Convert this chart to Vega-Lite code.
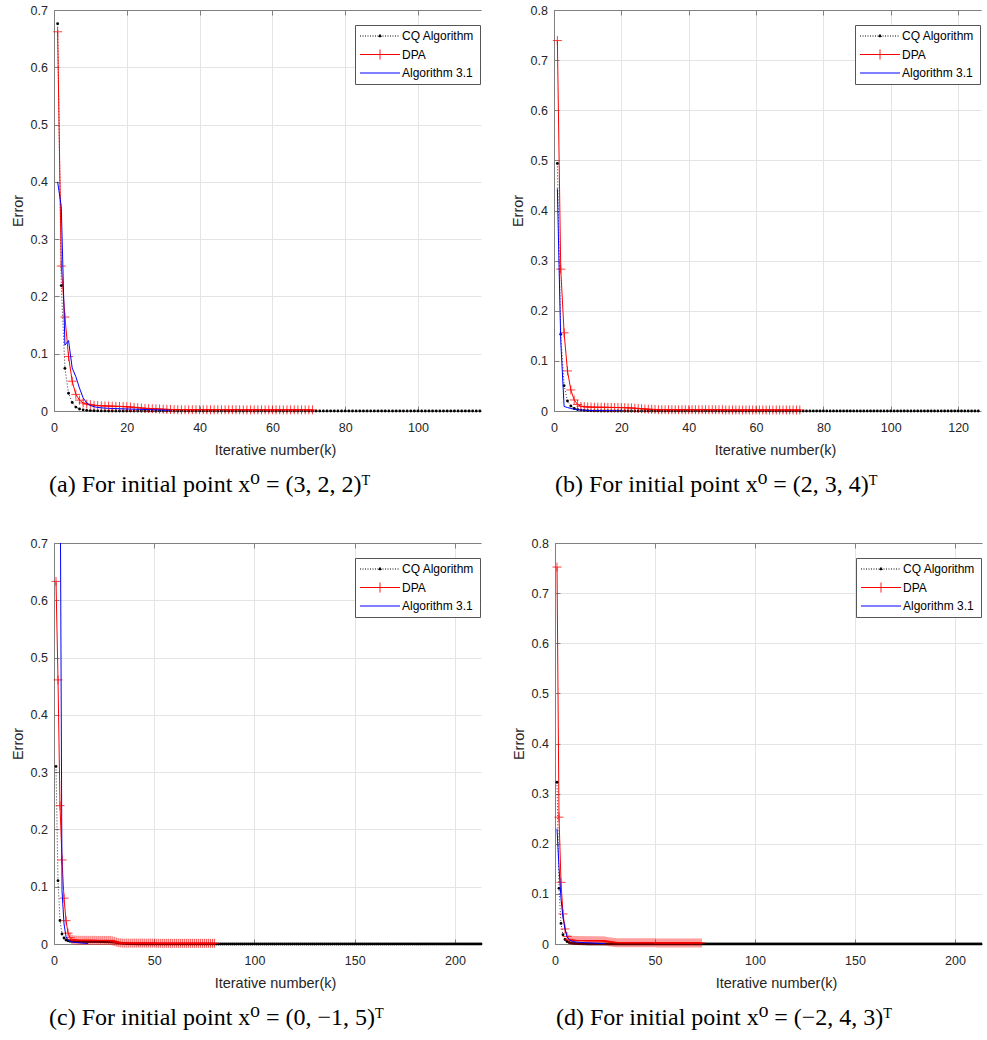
{
"$schema": "https://vega.github.io/schema/vega-lite/v6.json",
"padding": {"left": 10, "top": 4, "right": 0, "bottom": 0},
"background": "white",
"config": {
 "view": {"stroke": null},
 "font": "Liberation Sans",
 "axis": {"labelFont": "Liberation Sans", "labelFontSize": 12.5, "labelColor": "#262626", "titleFont": "Liberation Sans", "titleFontSize": 14.5, "titleFontWeight": "normal", "titleColor": "#262626", "domainColor": "#808080", "domainWidth": 1, "tickColor": "#808080", "tickSize": -5, "tickWidth": 1, "gridColor": "#e4e4e4", "gridWidth": 1, "labelFlush": false},
 "axisX": {"labelPadding": 15.5, "titlePadding": 9.5},
 "axisY": {"labelPadding": 11.5, "titlePadding": 5},
 "title": {"font": "Liberation Serif, DejaVu Serif", "fontSize": 24, "fontWeight": "normal", "color": "#000000", "baseline": "top"}
},
"datasets": {
"aC": [{"k":1,"e":0.676},{"k":2,"e":0.219},{"k":3,"e":0.0745},{"k":4,"e":0.031},{"k":5,"e":0.015},{"k":6,"e":0.0068},{"k":7,"e":0.0035},{"k":8,"e":0.002},{"k":9,"e":0.0012},{"k":10,"e":0.0008},{"k":11,"e":0.0005},{"k":12,"e":0.0003},{"k":13,"e":0.0002},{"k":14,"e":0.0001},{"k":15,"e":0},{"k":16,"e":0},{"k":17,"e":0},{"k":18,"e":0},{"k":19,"e":0},{"k":20,"e":0},{"k":21,"e":0},{"k":22,"e":0},{"k":23,"e":0},{"k":24,"e":0},{"k":25,"e":0},{"k":26,"e":0},{"k":27,"e":0},{"k":28,"e":0},{"k":29,"e":0},{"k":30,"e":0},{"k":31,"e":0},{"k":32,"e":0},{"k":33,"e":0},{"k":34,"e":0},{"k":35,"e":0},{"k":36,"e":0},{"k":37,"e":0},{"k":38,"e":0},{"k":39,"e":0},{"k":40,"e":0},{"k":41,"e":0},{"k":42,"e":0},{"k":43,"e":0},{"k":44,"e":0},{"k":45,"e":0},{"k":46,"e":0},{"k":47,"e":0},{"k":48,"e":0},{"k":49,"e":0},{"k":50,"e":0},{"k":51,"e":0},{"k":52,"e":0},{"k":53,"e":0},{"k":54,"e":0},{"k":55,"e":0},{"k":56,"e":0},{"k":57,"e":0},{"k":58,"e":0},{"k":59,"e":0},{"k":60,"e":0},{"k":61,"e":0},{"k":62,"e":0},{"k":63,"e":0},{"k":64,"e":0},{"k":65,"e":0},{"k":66,"e":0},{"k":67,"e":0},{"k":68,"e":0},{"k":69,"e":0},{"k":70,"e":0},{"k":71,"e":0},{"k":72,"e":0},{"k":73,"e":0},{"k":74,"e":0},{"k":75,"e":0},{"k":76,"e":0},{"k":77,"e":0},{"k":78,"e":0},{"k":79,"e":0},{"k":80,"e":0},{"k":81,"e":0},{"k":82,"e":0},{"k":83,"e":0},{"k":84,"e":0},{"k":85,"e":0},{"k":86,"e":0},{"k":87,"e":0},{"k":88,"e":0},{"k":89,"e":0},{"k":90,"e":0},{"k":91,"e":0},{"k":92,"e":0},{"k":93,"e":0},{"k":94,"e":0},{"k":95,"e":0},{"k":96,"e":0},{"k":97,"e":0},{"k":98,"e":0},{"k":99,"e":0},{"k":100,"e":0},{"k":101,"e":0},{"k":102,"e":0},{"k":103,"e":0},{"k":104,"e":0},{"k":105,"e":0},{"k":106,"e":0},{"k":107,"e":0},{"k":108,"e":0},{"k":109,"e":0},{"k":110,"e":0},{"k":111,"e":0},{"k":112,"e":0},{"k":113,"e":0},{"k":114,"e":0},{"k":115,"e":0},{"k":116,"e":0},{"k":117,"e":0}],
"aD": [{"k":1,"e":0.662},{"k":2,"e":0.253},{"k":3,"e":0.164},{"k":4,"e":0.095},{"k":5,"e":0.052},{"k":6,"e":0.029},{"k":7,"e":0.019},{"k":8,"e":0.014},{"k":9,"e":0.012},{"k":10,"e":0.011},{"k":11,"e":0.01},{"k":12,"e":0.0095},{"k":13,"e":0.009},{"k":14,"e":0.0088},{"k":15,"e":0.0086},{"k":16,"e":0.0084},{"k":17,"e":0.0082},{"k":18,"e":0.008},{"k":19,"e":0.0077},{"k":20,"e":0.0074},{"k":21,"e":0.007},{"k":22,"e":0.0064},{"k":23,"e":0.0058},{"k":24,"e":0.0052},{"k":25,"e":0.0047},{"k":26,"e":0.0043},{"k":27,"e":0.004},{"k":28,"e":0.0037},{"k":29,"e":0.0034},{"k":30,"e":0.0031},{"k":31,"e":0.0028},{"k":32,"e":0.0026},{"k":33,"e":0.0024},{"k":34,"e":0.0023},{"k":35,"e":0.0022},{"k":36,"e":0.0022},{"k":37,"e":0.0022},{"k":38,"e":0.0022},{"k":39,"e":0.0022},{"k":40,"e":0.0022},{"k":41,"e":0.0022},{"k":42,"e":0.0022},{"k":43,"e":0.0022},{"k":44,"e":0.0022},{"k":45,"e":0.0022},{"k":46,"e":0.0022},{"k":47,"e":0.0022},{"k":48,"e":0.0022},{"k":49,"e":0.0022},{"k":50,"e":0.0022},{"k":51,"e":0.002},{"k":52,"e":0.002},{"k":53,"e":0.002},{"k":54,"e":0.002},{"k":55,"e":0.002},{"k":56,"e":0.002},{"k":57,"e":0.002},{"k":58,"e":0.002},{"k":59,"e":0.002},{"k":60,"e":0.002},{"k":61,"e":0.002},{"k":62,"e":0.002},{"k":63,"e":0.002},{"k":64,"e":0.002},{"k":65,"e":0.002},{"k":66,"e":0.002},{"k":67,"e":0.002},{"k":68,"e":0.002},{"k":69,"e":0.002},{"k":70,"e":0.002},{"k":71,"e":0.002}],
"aA": [{"k":1,"e":0.4},{"k":2,"e":0.357},{"k":3,"e":0.115},{"k":4,"e":0.123},{"k":5,"e":0.075},{"k":6,"e":0.06},{"k":7,"e":0.04},{"k":8,"e":0.023},{"k":9,"e":0.014},{"k":10,"e":0.0096},{"k":11,"e":0.0075},{"k":12,"e":0.0062},{"k":13,"e":0.0055},{"k":14,"e":0.005},{"k":15,"e":0.0047},{"k":16,"e":0.0044},{"k":17,"e":0.0042},{"k":18,"e":0.004},{"k":19,"e":0.0038},{"k":20,"e":0.0036},{"k":21,"e":0.0034},{"k":22,"e":0.0032},{"k":23,"e":0.003},{"k":24,"e":0.0028},{"k":25,"e":0.0026},{"k":26,"e":0.0024},{"k":27,"e":0.0022},{"k":28,"e":0.002},{"k":29,"e":0.0018},{"k":30,"e":0.0016},{"k":31,"e":0.0014},{"k":32,"e":0.0012}],
"bC": [{"k":1,"e":0.494},{"k":2,"e":0.153},{"k":3,"e":0.0505},{"k":4,"e":0.02},{"k":5,"e":0.01},{"k":6,"e":0.0052},{"k":7,"e":0.003},{"k":8,"e":0.0018},{"k":9,"e":0.0011},{"k":10,"e":0.0007},{"k":11,"e":0.0004},{"k":12,"e":0.0002},{"k":13,"e":0.0001},{"k":14,"e":0},{"k":15,"e":0},{"k":16,"e":0},{"k":17,"e":0},{"k":18,"e":0},{"k":19,"e":0},{"k":20,"e":0},{"k":21,"e":0},{"k":22,"e":0},{"k":23,"e":0},{"k":24,"e":0},{"k":25,"e":0},{"k":26,"e":0},{"k":27,"e":0},{"k":28,"e":0},{"k":29,"e":0},{"k":30,"e":0},{"k":31,"e":0},{"k":32,"e":0},{"k":33,"e":0},{"k":34,"e":0},{"k":35,"e":0},{"k":36,"e":0},{"k":37,"e":0},{"k":38,"e":0},{"k":39,"e":0},{"k":40,"e":0},{"k":41,"e":0},{"k":42,"e":0},{"k":43,"e":0},{"k":44,"e":0},{"k":45,"e":0},{"k":46,"e":0},{"k":47,"e":0},{"k":48,"e":0},{"k":49,"e":0},{"k":50,"e":0},{"k":51,"e":0},{"k":52,"e":0},{"k":53,"e":0},{"k":54,"e":0},{"k":55,"e":0},{"k":56,"e":0},{"k":57,"e":0},{"k":58,"e":0},{"k":59,"e":0},{"k":60,"e":0},{"k":61,"e":0},{"k":62,"e":0},{"k":63,"e":0},{"k":64,"e":0},{"k":65,"e":0},{"k":66,"e":0},{"k":67,"e":0},{"k":68,"e":0},{"k":69,"e":0},{"k":70,"e":0},{"k":71,"e":0},{"k":72,"e":0},{"k":73,"e":0},{"k":74,"e":0},{"k":75,"e":0},{"k":76,"e":0},{"k":77,"e":0},{"k":78,"e":0},{"k":79,"e":0},{"k":80,"e":0},{"k":81,"e":0},{"k":82,"e":0},{"k":83,"e":0},{"k":84,"e":0},{"k":85,"e":0},{"k":86,"e":0},{"k":87,"e":0},{"k":88,"e":0},{"k":89,"e":0},{"k":90,"e":0},{"k":91,"e":0},{"k":92,"e":0},{"k":93,"e":0},{"k":94,"e":0},{"k":95,"e":0},{"k":96,"e":0},{"k":97,"e":0},{"k":98,"e":0},{"k":99,"e":0},{"k":100,"e":0},{"k":101,"e":0},{"k":102,"e":0},{"k":103,"e":0},{"k":104,"e":0},{"k":105,"e":0},{"k":106,"e":0},{"k":107,"e":0},{"k":108,"e":0},{"k":109,"e":0},{"k":110,"e":0},{"k":111,"e":0},{"k":112,"e":0},{"k":113,"e":0},{"k":114,"e":0},{"k":115,"e":0},{"k":116,"e":0},{"k":117,"e":0},{"k":118,"e":0},{"k":119,"e":0},{"k":120,"e":0},{"k":121,"e":0},{"k":122,"e":0},{"k":123,"e":0},{"k":124,"e":0},{"k":125,"e":0},{"k":126,"e":0}],
"bD": [{"k":1,"e":0.739},{"k":2,"e":0.283},{"k":3,"e":0.156},{"k":4,"e":0.08},{"k":5,"e":0.042},{"k":6,"e":0.022},{"k":7,"e":0.013},{"k":8,"e":0.0095},{"k":9,"e":0.0085},{"k":10,"e":0.008},{"k":11,"e":0.0078},{"k":12,"e":0.0076},{"k":13,"e":0.0075},{"k":14,"e":0.0074},{"k":15,"e":0.0073},{"k":16,"e":0.0072},{"k":17,"e":0.0071},{"k":18,"e":0.007},{"k":19,"e":0.0069},{"k":20,"e":0.0068},{"k":21,"e":0.0066},{"k":22,"e":0.0063},{"k":23,"e":0.006},{"k":24,"e":0.0055},{"k":25,"e":0.005},{"k":26,"e":0.0045},{"k":27,"e":0.004},{"k":28,"e":0.0036},{"k":29,"e":0.0032},{"k":30,"e":0.003},{"k":31,"e":0.0025},{"k":32,"e":0.0025},{"k":33,"e":0.0025},{"k":34,"e":0.0025},{"k":35,"e":0.0025},{"k":36,"e":0.0025},{"k":37,"e":0.0025},{"k":38,"e":0.0025},{"k":39,"e":0.0025},{"k":40,"e":0.0025},{"k":41,"e":0.0025},{"k":42,"e":0.0025},{"k":43,"e":0.0025},{"k":44,"e":0.0025},{"k":45,"e":0.0025},{"k":46,"e":0.0025},{"k":47,"e":0.0025},{"k":48,"e":0.0025},{"k":49,"e":0.0025},{"k":50,"e":0.0025},{"k":51,"e":0.002},{"k":52,"e":0.002},{"k":53,"e":0.002},{"k":54,"e":0.002},{"k":55,"e":0.002},{"k":56,"e":0.002},{"k":57,"e":0.002},{"k":58,"e":0.002},{"k":59,"e":0.002},{"k":60,"e":0.002},{"k":61,"e":0.002},{"k":62,"e":0.002},{"k":63,"e":0.002},{"k":64,"e":0.002},{"k":65,"e":0.002},{"k":66,"e":0.002},{"k":67,"e":0.002},{"k":68,"e":0.002},{"k":69,"e":0.002},{"k":70,"e":0.002},{"k":71,"e":0.002},{"k":72,"e":0.002},{"k":73,"e":0.002}],
"bA": [{"k":1,"e":0.444},{"k":2,"e":0.14},{"k":3,"e":0.009},{"k":4,"e":0.007},{"k":5,"e":0.005},{"k":6,"e":0.0035},{"k":7,"e":0.0025},{"k":8,"e":0.002},{"k":9,"e":0.0016},{"k":10,"e":0.0013},{"k":11,"e":0.001},{"k":12,"e":0.0009},{"k":13,"e":0.0008},{"k":14,"e":0.0007},{"k":15,"e":0.0006},{"k":16,"e":0.0005},{"k":17,"e":0.0005},{"k":18,"e":0.0004},{"k":19,"e":0.0004},{"k":20,"e":0.0003}],
"cC": [{"k":1,"e":0.31},{"k":2,"e":0.1105},{"k":3,"e":0.041},{"k":4,"e":0.0175},{"k":5,"e":0.0105},{"k":6,"e":0.007},{"k":7,"e":0.0055},{"k":8,"e":0.0048},{"k":9,"e":0.0045},{"k":10,"e":0.0043},{"k":11,"e":0.0042},{"k":12,"e":0.0041},{"k":13,"e":0.004},{"k":14,"e":0.004},{"k":15,"e":0.004},{"k":16,"e":0.004},{"k":17,"e":0.004},{"k":18,"e":0.004},{"k":19,"e":0.004},{"k":20,"e":0.004},{"k":21,"e":0.004},{"k":22,"e":0.004},{"k":23,"e":0.0039},{"k":24,"e":0.0038},{"k":25,"e":0.0037},{"k":26,"e":0.0036},{"k":27,"e":0.0035},{"k":28,"e":0.0034},{"k":29,"e":0.0032},{"k":30,"e":0.003},{"k":31,"e":0.0025},{"k":32,"e":0.002},{"k":33,"e":0.0016},{"k":34,"e":0.0013},{"k":35,"e":0.001},{"k":36,"e":0.0008},{"k":37,"e":0.0006},{"k":38,"e":0.0004},{"k":39,"e":0.0003},{"k":40,"e":0.0002},{"k":41,"e":0.0001},{"k":42,"e":0},{"k":43,"e":0},{"k":44,"e":0},{"k":45,"e":0},{"k":46,"e":0},{"k":47,"e":0},{"k":48,"e":0},{"k":49,"e":0},{"k":50,"e":0},{"k":51,"e":0},{"k":52,"e":0},{"k":53,"e":0},{"k":54,"e":0},{"k":55,"e":0},{"k":56,"e":0},{"k":57,"e":0},{"k":58,"e":0},{"k":59,"e":0},{"k":60,"e":0},{"k":61,"e":0},{"k":62,"e":0},{"k":63,"e":0},{"k":64,"e":0},{"k":65,"e":0},{"k":66,"e":0},{"k":67,"e":0},{"k":68,"e":0},{"k":69,"e":0},{"k":70,"e":0},{"k":71,"e":0},{"k":72,"e":0},{"k":73,"e":0},{"k":74,"e":0},{"k":75,"e":0},{"k":76,"e":0},{"k":77,"e":0},{"k":78,"e":0},{"k":79,"e":0},{"k":80,"e":0},{"k":81,"e":0},{"k":82,"e":0},{"k":83,"e":0},{"k":84,"e":0},{"k":85,"e":0},{"k":86,"e":0},{"k":87,"e":0},{"k":88,"e":0},{"k":89,"e":0},{"k":90,"e":0},{"k":91,"e":0},{"k":92,"e":0},{"k":93,"e":0},{"k":94,"e":0},{"k":95,"e":0},{"k":96,"e":0},{"k":97,"e":0},{"k":98,"e":0},{"k":99,"e":0},{"k":100,"e":0},{"k":101,"e":0},{"k":102,"e":0},{"k":103,"e":0},{"k":104,"e":0},{"k":105,"e":0},{"k":106,"e":0},{"k":107,"e":0},{"k":108,"e":0},{"k":109,"e":0},{"k":110,"e":0},{"k":111,"e":0},{"k":112,"e":0},{"k":113,"e":0},{"k":114,"e":0},{"k":115,"e":0},{"k":116,"e":0},{"k":117,"e":0},{"k":118,"e":0},{"k":119,"e":0},{"k":120,"e":0},{"k":121,"e":0},{"k":122,"e":0},{"k":123,"e":0},{"k":124,"e":0},{"k":125,"e":0},{"k":126,"e":0},{"k":127,"e":0},{"k":128,"e":0},{"k":129,"e":0},{"k":130,"e":0},{"k":131,"e":0},{"k":132,"e":0},{"k":133,"e":0},{"k":134,"e":0},{"k":135,"e":0},{"k":136,"e":0},{"k":137,"e":0},{"k":138,"e":0},{"k":139,"e":0},{"k":140,"e":0},{"k":141,"e":0},{"k":142,"e":0},{"k":143,"e":0},{"k":144,"e":0},{"k":145,"e":0},{"k":146,"e":0},{"k":147,"e":0},{"k":148,"e":0},{"k":149,"e":0},{"k":150,"e":0},{"k":151,"e":0},{"k":152,"e":0},{"k":153,"e":0},{"k":154,"e":0},{"k":155,"e":0},{"k":156,"e":0},{"k":157,"e":0},{"k":158,"e":0},{"k":159,"e":0},{"k":160,"e":0},{"k":161,"e":0},{"k":162,"e":0},{"k":163,"e":0},{"k":164,"e":0},{"k":165,"e":0},{"k":166,"e":0},{"k":167,"e":0},{"k":168,"e":0},{"k":169,"e":0},{"k":170,"e":0},{"k":171,"e":0},{"k":172,"e":0},{"k":173,"e":0},{"k":174,"e":0},{"k":175,"e":0},{"k":176,"e":0},{"k":177,"e":0},{"k":178,"e":0},{"k":179,"e":0},{"k":180,"e":0},{"k":181,"e":0},{"k":182,"e":0},{"k":183,"e":0},{"k":184,"e":0},{"k":185,"e":0},{"k":186,"e":0},{"k":187,"e":0},{"k":188,"e":0},{"k":189,"e":0},{"k":190,"e":0},{"k":191,"e":0},{"k":192,"e":0},{"k":193,"e":0},{"k":194,"e":0},{"k":195,"e":0},{"k":196,"e":0},{"k":197,"e":0},{"k":198,"e":0},{"k":199,"e":0},{"k":200,"e":0},{"k":201,"e":0},{"k":202,"e":0},{"k":203,"e":0},{"k":204,"e":0},{"k":205,"e":0},{"k":206,"e":0},{"k":207,"e":0},{"k":208,"e":0},{"k":209,"e":0},{"k":210,"e":0},{"k":211,"e":0},{"k":212,"e":0},{"k":213,"e":0}],
"cD": [{"k":1,"e":0.633},{"k":2,"e":0.461},{"k":3,"e":0.2415},{"k":4,"e":0.1467},{"k":5,"e":0.08},{"k":6,"e":0.0407},{"k":7,"e":0.019},{"k":8,"e":0.011},{"k":9,"e":0.008},{"k":10,"e":0.007},{"k":11,"e":0.0066},{"k":12,"e":0.0064},{"k":13,"e":0.0064},{"k":14,"e":0.0064},{"k":15,"e":0.0064},{"k":16,"e":0.0064},{"k":17,"e":0.0064},{"k":18,"e":0.0064},{"k":19,"e":0.0064},{"k":20,"e":0.0064},{"k":21,"e":0.0062},{"k":22,"e":0.0062},{"k":23,"e":0.0062},{"k":24,"e":0.0062},{"k":25,"e":0.0062},{"k":26,"e":0.0062},{"k":27,"e":0.0062},{"k":28,"e":0.0062},{"k":29,"e":0.0055},{"k":30,"e":0.0045},{"k":31,"e":0.0035},{"k":32,"e":0.0025},{"k":33,"e":0.002},{"k":34,"e":0.0015},{"k":35,"e":0.0015},{"k":36,"e":0.0015},{"k":37,"e":0.0015},{"k":38,"e":0.0015},{"k":39,"e":0.0015},{"k":40,"e":0.0015},{"k":41,"e":0.0015},{"k":42,"e":0.0015},{"k":43,"e":0.0015},{"k":44,"e":0.0015},{"k":45,"e":0.0015},{"k":46,"e":0.0015},{"k":47,"e":0.0015},{"k":48,"e":0.0015},{"k":49,"e":0.0015},{"k":50,"e":0.0015},{"k":51,"e":0.0012},{"k":52,"e":0.0012},{"k":53,"e":0.0012},{"k":54,"e":0.0012},{"k":55,"e":0.0012},{"k":56,"e":0.0012},{"k":57,"e":0.0012},{"k":58,"e":0.0012},{"k":59,"e":0.0012},{"k":60,"e":0.0012},{"k":61,"e":0.0012},{"k":62,"e":0.0012},{"k":63,"e":0.0012},{"k":64,"e":0.0012},{"k":65,"e":0.0012},{"k":66,"e":0.0012},{"k":67,"e":0.0012},{"k":68,"e":0.0012},{"k":69,"e":0.0012},{"k":70,"e":0.0012},{"k":71,"e":0.0012},{"k":72,"e":0.0012},{"k":73,"e":0.0012},{"k":74,"e":0.0012},{"k":75,"e":0.0012},{"k":76,"e":0.0012},{"k":77,"e":0.0012},{"k":78,"e":0.0012},{"k":79,"e":0.0012},{"k":80,"e":0.0012}],
"cA": [{"k":1,"e":1.8},{"k":2,"e":1.2},{"k":3,"e":0.9},{"k":4,"e":0.093},{"k":5,"e":0.035},{"k":6,"e":0.013},{"k":7,"e":0.007},{"k":8,"e":0.0045},{"k":9,"e":0.0035},{"k":10,"e":0.003},{"k":11,"e":0.0026},{"k":12,"e":0.0022},{"k":13,"e":0.0019},{"k":14,"e":0.0016},{"k":15,"e":0.0013},{"k":16,"e":0.001},{"k":17,"e":0.0008}],
"dC": [{"k":1,"e":0.3227},{"k":2,"e":0.111},{"k":3,"e":0.041},{"k":4,"e":0.0186},{"k":5,"e":0.009},{"k":6,"e":0.005},{"k":7,"e":0.003},{"k":8,"e":0.002},{"k":9,"e":0.0014},{"k":10,"e":0.001},{"k":11,"e":0.0007},{"k":12,"e":0.0005},{"k":13,"e":0.0003},{"k":14,"e":0.0002},{"k":15,"e":0.0001},{"k":16,"e":0},{"k":17,"e":0},{"k":18,"e":0},{"k":19,"e":0},{"k":20,"e":0},{"k":21,"e":0},{"k":22,"e":0},{"k":23,"e":0},{"k":24,"e":0},{"k":25,"e":0},{"k":26,"e":0},{"k":27,"e":0},{"k":28,"e":0},{"k":29,"e":0},{"k":30,"e":0},{"k":31,"e":0},{"k":32,"e":0},{"k":33,"e":0},{"k":34,"e":0},{"k":35,"e":0},{"k":36,"e":0},{"k":37,"e":0},{"k":38,"e":0},{"k":39,"e":0},{"k":40,"e":0},{"k":41,"e":0},{"k":42,"e":0},{"k":43,"e":0},{"k":44,"e":0},{"k":45,"e":0},{"k":46,"e":0},{"k":47,"e":0},{"k":48,"e":0},{"k":49,"e":0},{"k":50,"e":0},{"k":51,"e":0},{"k":52,"e":0},{"k":53,"e":0},{"k":54,"e":0},{"k":55,"e":0},{"k":56,"e":0},{"k":57,"e":0},{"k":58,"e":0},{"k":59,"e":0},{"k":60,"e":0},{"k":61,"e":0},{"k":62,"e":0},{"k":63,"e":0},{"k":64,"e":0},{"k":65,"e":0},{"k":66,"e":0},{"k":67,"e":0},{"k":68,"e":0},{"k":69,"e":0},{"k":70,"e":0},{"k":71,"e":0},{"k":72,"e":0},{"k":73,"e":0},{"k":74,"e":0},{"k":75,"e":0},{"k":76,"e":0},{"k":77,"e":0},{"k":78,"e":0},{"k":79,"e":0},{"k":80,"e":0},{"k":81,"e":0},{"k":82,"e":0},{"k":83,"e":0},{"k":84,"e":0},{"k":85,"e":0},{"k":86,"e":0},{"k":87,"e":0},{"k":88,"e":0},{"k":89,"e":0},{"k":90,"e":0},{"k":91,"e":0},{"k":92,"e":0},{"k":93,"e":0},{"k":94,"e":0},{"k":95,"e":0},{"k":96,"e":0},{"k":97,"e":0},{"k":98,"e":0},{"k":99,"e":0},{"k":100,"e":0},{"k":101,"e":0},{"k":102,"e":0},{"k":103,"e":0},{"k":104,"e":0},{"k":105,"e":0},{"k":106,"e":0},{"k":107,"e":0},{"k":108,"e":0},{"k":109,"e":0},{"k":110,"e":0},{"k":111,"e":0},{"k":112,"e":0},{"k":113,"e":0},{"k":114,"e":0},{"k":115,"e":0},{"k":116,"e":0},{"k":117,"e":0},{"k":118,"e":0},{"k":119,"e":0},{"k":120,"e":0},{"k":121,"e":0},{"k":122,"e":0},{"k":123,"e":0},{"k":124,"e":0},{"k":125,"e":0},{"k":126,"e":0},{"k":127,"e":0},{"k":128,"e":0},{"k":129,"e":0},{"k":130,"e":0},{"k":131,"e":0},{"k":132,"e":0},{"k":133,"e":0},{"k":134,"e":0},{"k":135,"e":0},{"k":136,"e":0},{"k":137,"e":0},{"k":138,"e":0},{"k":139,"e":0},{"k":140,"e":0},{"k":141,"e":0},{"k":142,"e":0},{"k":143,"e":0},{"k":144,"e":0},{"k":145,"e":0},{"k":146,"e":0},{"k":147,"e":0},{"k":148,"e":0},{"k":149,"e":0},{"k":150,"e":0},{"k":151,"e":0},{"k":152,"e":0},{"k":153,"e":0},{"k":154,"e":0},{"k":155,"e":0},{"k":156,"e":0},{"k":157,"e":0},{"k":158,"e":0},{"k":159,"e":0},{"k":160,"e":0},{"k":161,"e":0},{"k":162,"e":0},{"k":163,"e":0},{"k":164,"e":0},{"k":165,"e":0},{"k":166,"e":0},{"k":167,"e":0},{"k":168,"e":0},{"k":169,"e":0},{"k":170,"e":0},{"k":171,"e":0},{"k":172,"e":0},{"k":173,"e":0},{"k":174,"e":0},{"k":175,"e":0},{"k":176,"e":0},{"k":177,"e":0},{"k":178,"e":0},{"k":179,"e":0},{"k":180,"e":0},{"k":181,"e":0},{"k":182,"e":0},{"k":183,"e":0},{"k":184,"e":0},{"k":185,"e":0},{"k":186,"e":0},{"k":187,"e":0},{"k":188,"e":0},{"k":189,"e":0},{"k":190,"e":0},{"k":191,"e":0},{"k":192,"e":0},{"k":193,"e":0},{"k":194,"e":0},{"k":195,"e":0},{"k":196,"e":0},{"k":197,"e":0},{"k":198,"e":0},{"k":199,"e":0},{"k":200,"e":0},{"k":201,"e":0},{"k":202,"e":0},{"k":203,"e":0},{"k":204,"e":0},{"k":205,"e":0},{"k":206,"e":0},{"k":207,"e":0},{"k":208,"e":0},{"k":209,"e":0},{"k":210,"e":0},{"k":211,"e":0},{"k":212,"e":0},{"k":213,"e":0}],
"dD": [{"k":1,"e":0.752},{"k":2,"e":0.253},{"k":3,"e":0.123},{"k":4,"e":0.06},{"k":5,"e":0.03},{"k":6,"e":0.015},{"k":7,"e":0.0095},{"k":8,"e":0.008},{"k":9,"e":0.0072},{"k":10,"e":0.0071},{"k":11,"e":0.007},{"k":12,"e":0.0069},{"k":13,"e":0.0068},{"k":14,"e":0.0068},{"k":15,"e":0.0067},{"k":16,"e":0.0067},{"k":17,"e":0.0066},{"k":18,"e":0.0066},{"k":19,"e":0.0065},{"k":20,"e":0.0065},{"k":21,"e":0.0065},{"k":22,"e":0.0064},{"k":23,"e":0.0064},{"k":24,"e":0.0063},{"k":25,"e":0.006},{"k":26,"e":0.0052},{"k":27,"e":0.0045},{"k":28,"e":0.004},{"k":29,"e":0.0035},{"k":30,"e":0.003},{"k":31,"e":0.0025},{"k":32,"e":0.0025},{"k":33,"e":0.0025},{"k":34,"e":0.0025},{"k":35,"e":0.0025},{"k":36,"e":0.0025},{"k":37,"e":0.0025},{"k":38,"e":0.0025},{"k":39,"e":0.0025},{"k":40,"e":0.0025},{"k":41,"e":0.0025},{"k":42,"e":0.0025},{"k":43,"e":0.0025},{"k":44,"e":0.0025},{"k":45,"e":0.0025},{"k":46,"e":0.0025},{"k":47,"e":0.0025},{"k":48,"e":0.0025},{"k":49,"e":0.0025},{"k":50,"e":0.0025},{"k":51,"e":0.002},{"k":52,"e":0.002},{"k":53,"e":0.002},{"k":54,"e":0.002},{"k":55,"e":0.002},{"k":56,"e":0.002},{"k":57,"e":0.002},{"k":58,"e":0.002},{"k":59,"e":0.002},{"k":60,"e":0.002},{"k":61,"e":0.002},{"k":62,"e":0.002},{"k":63,"e":0.002},{"k":64,"e":0.002},{"k":65,"e":0.002},{"k":66,"e":0.002},{"k":67,"e":0.002},{"k":68,"e":0.002},{"k":69,"e":0.002},{"k":70,"e":0.002},{"k":71,"e":0.002},{"k":72,"e":0.002},{"k":73,"e":0.002}],
"dA": [{"k":1,"e":0.23},{"k":2,"e":0.153},{"k":3,"e":0.09},{"k":4,"e":0.053},{"k":5,"e":0.03},{"k":6,"e":0.015},{"k":7,"e":0.009},{"k":8,"e":0.0065},{"k":9,"e":0.005},{"k":10,"e":0.0043},{"k":11,"e":0.0038},{"k":12,"e":0.0034},{"k":13,"e":0.003},{"k":14,"e":0.0028},{"k":15,"e":0.0026},{"k":16,"e":0.0024},{"k":17,"e":0.0022},{"k":18,"e":0.002},{"k":19,"e":0.0018},{"k":20,"e":0.0016},{"k":21,"e":0.0014},{"k":22,"e":0.0012},{"k":23,"e":0.001},{"k":24,"e":0.0009},{"k":25,"e":0.0008}]
},
"spacing": 40,
"resolve": {"scale": {"color": "independent"}},
"vconcat": [
{"spacing": 28, "resolve": {"scale": {"color": "independent"}}, "hconcat": [
{"width": 427, "height": 401,
 "title": {"text": "(a) For initial point x⁰ = (3, 2, 2)ᵀ", "orient": "bottom", "anchor": "start", "frame": "group", "dx": -5, "offset": 16},
 "resolve": {"axis": {"x": "independent"}},
 "layer": [
  {"data": {"name": "aC"}, "mark": {"type": "line", "clip": true, "strokeDash": [1, 2], "strokeWidth": 0.8},
   "encoding": {
    "x": {"field": "k", "type": "quantitative", "scale": {"domain": [0, 117.3], "nice": false}, "axis": {"values": [0, 20, 40, 60, 80, 100], "title": "Iterative number(k)", "titleX": 221}},
    "y": {"field": "e", "type": "quantitative", "scale": {"domain": [0, 0.7], "nice": false}, "axis": {"values": [0, 0.1, 0.2, 0.3, 0.4, 0.5, 0.6, 0.7], "format": ".1~f", "title": "Error"}},
    "color": {"datum": "CQ Algorithm", "type": "nominal", "scale": {"domain": ["CQ Algorithm", "DPA", "Algorithm 3.1"], "range": ["#000000", "#ff0000", "#0000ff"]},
     "legend": {"title": null, "orient": "none", "legendX": 301, "legendY": 15, "fillColor": "#ffffff", "strokeColor": "#555555", "padding": 5, "labelFont": "Liberation Sans", "labelFontSize": 12, "labelColor": "#000000", "symbolSize": 100, "symbolStrokeWidth": 1, "symbolOffset": 14, "labelOffset": 16, "rowPadding": 5.5,
      "encode": {"symbols": {"update": {
       "shape": {"signal": "datum.value === 'CQ Algorithm' ? 'M-4,0H4M0.26,0A0.26,0.26 0 1,1 -0.26,0A0.26,0.26 0 1,1 0.26,0' : datum.value === 'DPA' ? 'M-4,0H4M0,-1V1' : 'M-4,0H4'"},
       "fill": {"signal": "datum.value === 'CQ Algorithm' ? '#000000' : 'transparent'"},
       "strokeDash": {"signal": "datum.value === 'CQ Algorithm' ? [1, 1.5] : [1, 0]"}}}}}}}},
  {"data": {"name": "aD"}, "mark": {"type": "line", "clip": true, "strokeWidth": 1},
   "encoding": {"x": {"field": "k", "type": "quantitative", "axis": null}, "y": {"field": "e", "type": "quantitative"},
    "color": {"datum": "DPA", "type": "nominal", "scale": {"domain": ["CQ Algorithm", "DPA", "Algorithm 3.1"], "range": ["#000000", "#ff0000", "#0000ff"]}}}},
  {"data": {"name": "aC"}, "mark": {"type": "point", "filled": true, "size": 8, "color": "#000000", "opacity": 1},
   "encoding": {"x": {"field": "k", "type": "quantitative", "axis": {"orient": "top", "labels": false, "title": null, "grid": false, "values": [0, 20, 40, 60, 80, 100]}}, "y": {"field": "e", "type": "quantitative"}}},
  {"data": {"name": "aD"}, "mark": {"type": "point", "shape": "M-1,0H1M0,-1V1", "size": 81, "filled": false, "color": "#ff0000", "strokeWidth": 1, "opacity": 0.75},
   "encoding": {"x": {"field": "k", "type": "quantitative", "axis": null}, "y": {"field": "e", "type": "quantitative"}}},
  {"data": {"name": "aA"}, "mark": {"type": "line", "clip": true, "strokeWidth": 1},
   "encoding": {"x": {"field": "k", "type": "quantitative", "axis": null}, "y": {"field": "e", "type": "quantitative"},
    "color": {"datum": "Algorithm 3.1", "type": "nominal", "scale": {"domain": ["CQ Algorithm", "DPA", "Algorithm 3.1"], "range": ["#000000", "#ff0000", "#0000ff"]}}}}
 ]},
{"width": 427, "height": 401,
 "title": {"text": "(b) For initial point x⁰ = (2, 3, 4)ᵀ", "orient": "bottom", "anchor": "start", "frame": "group", "dx": 1, "offset": 16},
 "resolve": {"axis": {"x": "independent"}},
 "layer": [
  {"data": {"name": "bC"}, "mark": {"type": "line", "clip": true, "strokeDash": [1, 2], "strokeWidth": 0.8},
   "encoding": {
    "x": {"field": "k", "type": "quantitative", "scale": {"domain": [0, 126.8], "nice": false}, "axis": {"values": [0, 20, 40, 60, 80, 100, 120], "title": "Iterative number(k)", "titleX": 221}},
    "y": {"field": "e", "type": "quantitative", "scale": {"domain": [0, 0.8], "nice": false}, "axis": {"values": [0, 0.1, 0.2, 0.3, 0.4, 0.5, 0.6, 0.7, 0.8], "format": ".1~f", "title": "Error"}},
    "color": {"datum": "CQ Algorithm", "type": "nominal", "scale": {"domain": ["CQ Algorithm", "DPA", "Algorithm 3.1"], "range": ["#000000", "#ff0000", "#0000ff"]},
     "legend": {"title": null, "orient": "none", "legendX": 301, "legendY": 15, "fillColor": "#ffffff", "strokeColor": "#555555", "padding": 5, "labelFont": "Liberation Sans", "labelFontSize": 12, "labelColor": "#000000", "symbolSize": 100, "symbolStrokeWidth": 1, "symbolOffset": 14, "labelOffset": 16, "rowPadding": 5.5,
      "encode": {"symbols": {"update": {
       "shape": {"signal": "datum.value === 'CQ Algorithm' ? 'M-4,0H4M0.26,0A0.26,0.26 0 1,1 -0.26,0A0.26,0.26 0 1,1 0.26,0' : datum.value === 'DPA' ? 'M-4,0H4M0,-1V1' : 'M-4,0H4'"},
       "fill": {"signal": "datum.value === 'CQ Algorithm' ? '#000000' : 'transparent'"},
       "strokeDash": {"signal": "datum.value === 'CQ Algorithm' ? [1, 1.5] : [1, 0]"}}}}}}}},
  {"data": {"name": "bD"}, "mark": {"type": "line", "clip": true, "strokeWidth": 1},
   "encoding": {"x": {"field": "k", "type": "quantitative", "axis": null}, "y": {"field": "e", "type": "quantitative"},
    "color": {"datum": "DPA", "type": "nominal", "scale": {"domain": ["CQ Algorithm", "DPA", "Algorithm 3.1"], "range": ["#000000", "#ff0000", "#0000ff"]}}}},
  {"data": {"name": "bC"}, "mark": {"type": "point", "filled": true, "size": 8, "color": "#000000", "opacity": 1},
   "encoding": {"x": {"field": "k", "type": "quantitative", "axis": {"orient": "top", "labels": false, "title": null, "grid": false, "values": [0, 20, 40, 60, 80, 100, 120]}}, "y": {"field": "e", "type": "quantitative"}}},
  {"data": {"name": "bD"}, "mark": {"type": "point", "shape": "M-1,0H1M0,-1V1", "size": 81, "filled": false, "color": "#ff0000", "strokeWidth": 1, "opacity": 0.75},
   "encoding": {"x": {"field": "k", "type": "quantitative", "axis": null}, "y": {"field": "e", "type": "quantitative"}}},
  {"data": {"name": "bA"}, "mark": {"type": "line", "clip": true, "strokeWidth": 1},
   "encoding": {"x": {"field": "k", "type": "quantitative", "axis": null}, "y": {"field": "e", "type": "quantitative"},
    "color": {"datum": "Algorithm 3.1", "type": "nominal", "scale": {"domain": ["CQ Algorithm", "DPA", "Algorithm 3.1"], "range": ["#000000", "#ff0000", "#0000ff"]}}}}
 ]}
]},
{"spacing": 28, "resolve": {"scale": {"color": "independent"}}, "hconcat": [
{"width": 427, "height": 401,
 "title": {"text": "(c) For initial point x⁰ = (0, −1, 5)ᵀ", "orient": "bottom", "anchor": "start", "frame": "group", "dx": -5, "offset": 16},
 "resolve": {"axis": {"x": "independent"}},
 "layer": [
  {"data": {"name": "cC"}, "mark": {"type": "line", "clip": true, "strokeDash": [1, 2], "strokeWidth": 0.8},
   "encoding": {
    "x": {"field": "k", "type": "quantitative", "scale": {"domain": [0, 213], "nice": false}, "axis": {"values": [0, 50, 100, 150, 200], "title": "Iterative number(k)", "titleX": 221}},
    "y": {"field": "e", "type": "quantitative", "scale": {"domain": [0, 0.7], "nice": false}, "axis": {"values": [0, 0.1, 0.2, 0.3, 0.4, 0.5, 0.6, 0.7], "format": ".1~f", "title": "Error"}},
    "color": {"datum": "CQ Algorithm", "type": "nominal", "scale": {"domain": ["CQ Algorithm", "DPA", "Algorithm 3.1"], "range": ["#000000", "#ff0000", "#0000ff"]},
     "legend": {"title": null, "orient": "none", "legendX": 301, "legendY": 15, "fillColor": "#ffffff", "strokeColor": "#555555", "padding": 5, "labelFont": "Liberation Sans", "labelFontSize": 12, "labelColor": "#000000", "symbolSize": 100, "symbolStrokeWidth": 1, "symbolOffset": 14, "labelOffset": 16, "rowPadding": 5.5,
      "encode": {"symbols": {"update": {
       "shape": {"signal": "datum.value === 'CQ Algorithm' ? 'M-4,0H4M0.26,0A0.26,0.26 0 1,1 -0.26,0A0.26,0.26 0 1,1 0.26,0' : datum.value === 'DPA' ? 'M-4,0H4M0,-1V1' : 'M-4,0H4'"},
       "fill": {"signal": "datum.value === 'CQ Algorithm' ? '#000000' : 'transparent'"},
       "strokeDash": {"signal": "datum.value === 'CQ Algorithm' ? [1, 1.5] : [1, 0]"}}}}}}}},
  {"data": {"name": "cD"}, "mark": {"type": "line", "clip": true, "strokeWidth": 1},
   "encoding": {"x": {"field": "k", "type": "quantitative", "axis": null}, "y": {"field": "e", "type": "quantitative"},
    "color": {"datum": "DPA", "type": "nominal", "scale": {"domain": ["CQ Algorithm", "DPA", "Algorithm 3.1"], "range": ["#000000", "#ff0000", "#0000ff"]}}}},
  {"data": {"name": "cC"}, "mark": {"type": "point", "filled": true, "size": 8, "color": "#000000", "opacity": 1},
   "encoding": {"x": {"field": "k", "type": "quantitative", "axis": {"orient": "top", "labels": false, "title": null, "grid": false, "values": [0, 50, 100, 150, 200]}}, "y": {"field": "e", "type": "quantitative"}}},
  {"data": {"name": "cD"}, "mark": {"type": "point", "shape": "M-1,0H1M0,-1V1", "size": 81, "filled": false, "color": "#ff0000", "strokeWidth": 1, "opacity": 0.75},
   "encoding": {"x": {"field": "k", "type": "quantitative", "axis": null}, "y": {"field": "e", "type": "quantitative"}}},
  {"data": {"name": "cA"}, "mark": {"type": "line", "clip": true, "strokeWidth": 1},
   "encoding": {"x": {"field": "k", "type": "quantitative", "axis": null}, "y": {"field": "e", "type": "quantitative"},
    "color": {"datum": "Algorithm 3.1", "type": "nominal", "scale": {"domain": ["CQ Algorithm", "DPA", "Algorithm 3.1"], "range": ["#000000", "#ff0000", "#0000ff"]}}}}
 ]},
{"width": 427, "height": 401,
 "title": {"text": "(d) For initial point x⁰ = (−2, 4, 3)ᵀ", "orient": "bottom", "anchor": "start", "frame": "group", "dx": 1, "offset": 16},
 "resolve": {"axis": {"x": "independent"}},
 "layer": [
  {"data": {"name": "dC"}, "mark": {"type": "line", "clip": true, "strokeDash": [1, 2], "strokeWidth": 0.8},
   "encoding": {
    "x": {"field": "k", "type": "quantitative", "scale": {"domain": [0, 213.5], "nice": false}, "axis": {"values": [0, 50, 100, 150, 200], "title": "Iterative number(k)", "titleX": 221}},
    "y": {"field": "e", "type": "quantitative", "scale": {"domain": [0, 0.8], "nice": false}, "axis": {"values": [0, 0.1, 0.2, 0.3, 0.4, 0.5, 0.6, 0.7, 0.8], "format": ".1~f", "title": "Error"}},
    "color": {"datum": "CQ Algorithm", "type": "nominal", "scale": {"domain": ["CQ Algorithm", "DPA", "Algorithm 3.1"], "range": ["#000000", "#ff0000", "#0000ff"]},
     "legend": {"title": null, "orient": "none", "legendX": 301, "legendY": 15, "fillColor": "#ffffff", "strokeColor": "#555555", "padding": 5, "labelFont": "Liberation Sans", "labelFontSize": 12, "labelColor": "#000000", "symbolSize": 100, "symbolStrokeWidth": 1, "symbolOffset": 14, "labelOffset": 16, "rowPadding": 5.5,
      "encode": {"symbols": {"update": {
       "shape": {"signal": "datum.value === 'CQ Algorithm' ? 'M-4,0H4M0.26,0A0.26,0.26 0 1,1 -0.26,0A0.26,0.26 0 1,1 0.26,0' : datum.value === 'DPA' ? 'M-4,0H4M0,-1V1' : 'M-4,0H4'"},
       "fill": {"signal": "datum.value === 'CQ Algorithm' ? '#000000' : 'transparent'"},
       "strokeDash": {"signal": "datum.value === 'CQ Algorithm' ? [1, 1.5] : [1, 0]"}}}}}}}},
  {"data": {"name": "dD"}, "mark": {"type": "line", "clip": true, "strokeWidth": 1},
   "encoding": {"x": {"field": "k", "type": "quantitative", "axis": null}, "y": {"field": "e", "type": "quantitative"},
    "color": {"datum": "DPA", "type": "nominal", "scale": {"domain": ["CQ Algorithm", "DPA", "Algorithm 3.1"], "range": ["#000000", "#ff0000", "#0000ff"]}}}},
  {"data": {"name": "dC"}, "mark": {"type": "point", "filled": true, "size": 8, "color": "#000000", "opacity": 1},
   "encoding": {"x": {"field": "k", "type": "quantitative", "axis": {"orient": "top", "labels": false, "title": null, "grid": false, "values": [0, 50, 100, 150, 200]}}, "y": {"field": "e", "type": "quantitative"}}},
  {"data": {"name": "dD"}, "mark": {"type": "point", "shape": "M-1,0H1M0,-1V1", "size": 81, "filled": false, "color": "#ff0000", "strokeWidth": 1, "opacity": 0.75},
   "encoding": {"x": {"field": "k", "type": "quantitative", "axis": null}, "y": {"field": "e", "type": "quantitative"}}},
  {"data": {"name": "dA"}, "mark": {"type": "line", "clip": true, "strokeWidth": 1},
   "encoding": {"x": {"field": "k", "type": "quantitative", "axis": null}, "y": {"field": "e", "type": "quantitative"},
    "color": {"datum": "Algorithm 3.1", "type": "nominal", "scale": {"domain": ["CQ Algorithm", "DPA", "Algorithm 3.1"], "range": ["#000000", "#ff0000", "#0000ff"]}}}}
 ]}
]}
]
}
